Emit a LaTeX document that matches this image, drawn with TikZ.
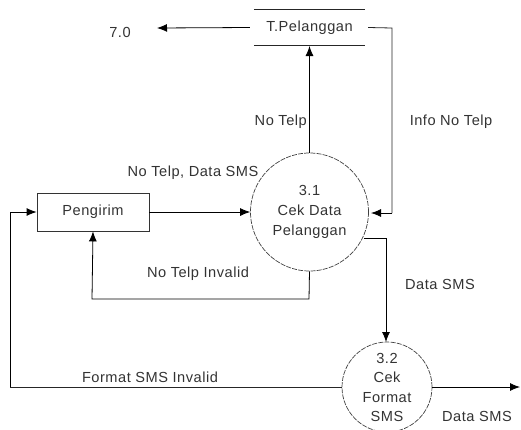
\documentclass[tikz,border=0pt]{standalone}
\usepackage{fontspec}
\setmainfont[LetterSpace=3.5]{Liberation Sans}
\usetikzlibrary{arrows.meta}
\begin{document}
\begin{tikzpicture}[x=1pt,y=-1pt,
  lbl/.style={font=\fontsize{14.6}{18}\selectfont, text=black!80, inner sep=0pt},
  proc/.style={circle, draw=black!75, line width=0.7pt, dash pattern=on 5pt off 1.2pt, minimum size=118pt, inner sep=0pt, align=center, font=\fontsize{14.6}{20}\selectfont, text=black!80},
  ent/.style={draw=black!80, line width=0.8pt, minimum width=112pt, minimum height=38pt, inner sep=0pt, font=\fontsize{14.6}{18}\selectfont, text=black!80},
  flow/.style={draw=black, line width=0.8pt, -{Latex[length=10pt,width=8pt]}},
  plain/.style={draw=black!85, line width=0.8pt}]
\useasboundingbox (0,0) rectangle (521,429);
% data store
\node[lbl, minimum width=111pt, minimum height=35pt] (store) at (309.5,27.5) {T.Pelanggan};
\draw[plain] (store.north west) -- (store.north east);
\draw[plain] (store.south west) -- (store.south east);
\node[lbl] (ext7) at (120,32) {7.0};
\coordinate (t7) at (157,28);
% processes
\node[proc] (p31) at (309.5,212) {3.1\\Cek Data\\Pelanggan};
\node[proc, minimum size=90pt, font=\fontsize{14.6}{19.5}\selectfont] (p32) at (387,387) {};
\node[lbl, align=center, font=\fontsize{14.6}{19.5}\selectfont, anchor=north] (p32t) at (387,353) {3.2\\Cek\\Format\\SMS};
% entity
\node[ent] (peng) at (93,212) {Pengirim};
% coordinates
\coordinate (sr) at (392,28);
\coordinate (sd) at (392,213);
\coordinate (lt) at (10,212);
\coordinate (lb) at (10,387);
\coordinate (ib) at (309,299);
\coordinate (il) at (92,299);
\coordinate (dr) at (364,238);
\coordinate (dr2) at (386,238);
\coordinate (out) at (520,387);
% flows
\draw[flow] (store.west) ++(-4,0) -- (t7);
\draw[flow] (p31.north) -- (309.5,46);
\draw[plain] (store.east) ++(3,0) -- (sr) -- (sd);
\draw[flow] (sd) -- (371,213);
\draw[flow] (peng.east) -- (p31.west);
\draw[flow] (lb) -- (lt) -- (peng.west);
\draw[plain] (p32.west) -- (lb);
\draw[flow] (p31.south) -- (ib) -- (il) -- (peng.south);
\draw[flow] (dr) -- (dr2) -- (386,342);
\draw[flow] (p32.east) -- (out);
% labels
\node[lbl, anchor=east] (l1) at (307,122) {No Telp};
\node[lbl] (l2) at (451,122) {Info No Telp};
\node[lbl] (l3) at (193,173) {No Telp, Data SMS};
\node[lbl] (l4) at (198,274) {No Telp Invalid};
\node[lbl] (l5) at (440,284) {Data SMS};
\node[lbl] (l6) at (150,377) {Format SMS Invalid};
\node[lbl] (l7) at (477,416) {Data SMS};
\end{tikzpicture}
\end{document}
